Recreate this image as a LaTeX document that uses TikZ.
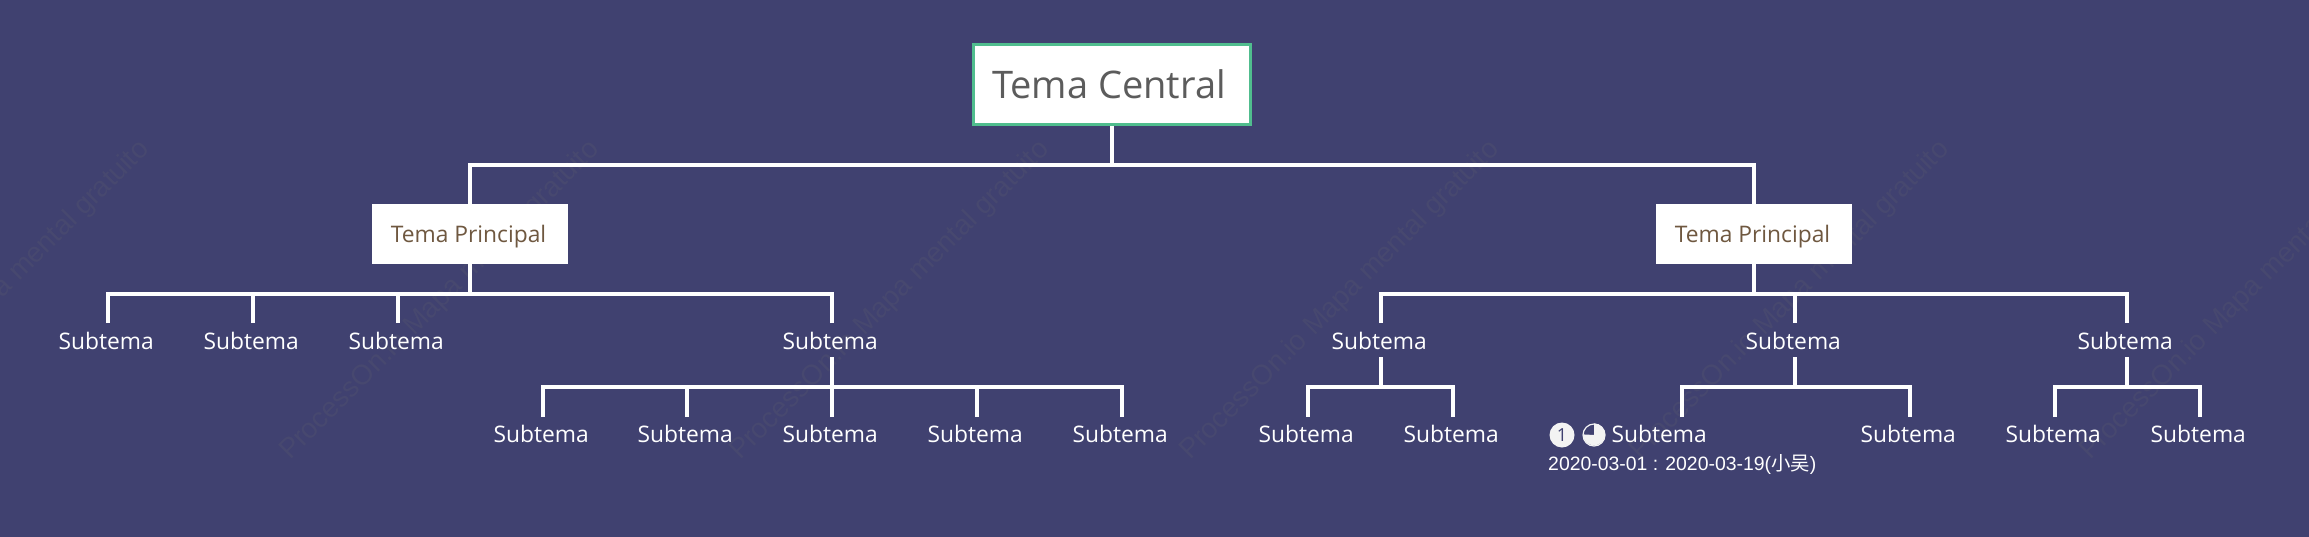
\documentclass[tikz,border=0pt]{standalone}
\usepackage{fontspec}
\setmainfont{Open Sans}
\newfontfamily\arialfont{Liberation Sans}
\newfontfamily\cjkfont{Noto Sans CJK SC}
\definecolor{bgc}{HTML}{404170}
\definecolor{wmc}{HTML}{47486F}
\definecolor{greenc}{HTML}{50BD8E}
\definecolor{greyc}{HTML}{5C5C5C}
\definecolor{brownc}{HTML}{6F5840}
\definecolor{iconc}{HTML}{F3F3F3}
\tikzset{
  x=1pt,y=-1pt,
  conn/.style={draw=white,line width=3.2pt},
  roottopic/.style={draw=greenc,line width=3pt,fill=white,text=greyc,inner sep=0pt,outer sep=1.5pt,
    minimum width=277pt,minimum height=80pt,text height=54pt,text depth=26pt,
    font=\fontsize{38}{40}\selectfont},
  maintopic/.style={fill=white,text=brownc,inner sep=0pt,outer sep=0pt,
    minimum width=196pt,minimum height=60pt,text height=38pt,text depth=22pt,
    font=\fontsize{22.8}{24}\selectfont},
  subtopic/.style={text=white,inner sep=0pt,outer sep=0pt,minimum height=34pt,
    text height=26pt,text depth=8pt,font=\fontsize{22.8}{24}\selectfont},
  lowertopic/.style={subtopic,text height=25pt,text depth=9pt},
  wmark/.style={text=wmc,rotate=45,anchor=base west,inner sep=0pt,
    font=\arialfont\fontsize{28}{30}\selectfont},
}
\newcommand{\subt}{Subtema\kern3.5pt}
\begin{document}
\begin{tikzpicture}
\useasboundingbox (0,0) rectangle (2309,536);
\fill[bgc] (-5,-5) rectangle (2314,541);
% watermarks
\foreach \i/\wx in {0/-160,1/290,2/740,3/1190,4/1640,5/2090}{
  \node[wmark] (wa\i) at (\wx,461) {ProcessOn.io Mapa mental gratuito};
}
% nodes
\node[roottopic] (root) at (1112,84.5) {Tema Central\kern6pt};
\node[maintopic] (mL) at (470,234) {Tema Principal\kern3pt};
\node[maintopic] (mR) at (1754,234) {Tema Principal\kern3pt};
\foreach \n/\sx in {a/108,b/253,c/398,d/832,e/1381,f/1795,g/2127}{
  \node[subtopic] (s\n) at (\sx,340) {\subt};
}
\foreach \n/\sx in {a/543,b/687,c/832,d/977,e/1122,f/1308,g/1453,i/1910,j/2055,k/2200}{
  \node[lowertopic] (t\n) at (\sx,434) {\subt};
}
\node[lowertopic,minimum width=267pt] (th) at (1682,434) {\makebox[267pt][l]{\hspace{63pt}Subtema}};
\node[text=white,inner sep=0pt,anchor=base west,font=\arialfont\fontsize{19.4}{22}\selectfont] (date) at (1548,470) {2020-03-01 : 2020-03-19({\cjkfont 小吴})};
% icons
\node[circle,fill=iconc,minimum size=25pt,inner sep=0pt,text=bgc,font=\fontsize{18}{18}\selectfont] (icon1) at (1562,435) {1};
\node[circle,draw=iconc,line width=1.2pt,minimum size=22pt,inner sep=0pt] (icon2) at (1594,435) {};
\fill[iconc] (icon2.center) -- (icon2.north) arc[start angle=-90,end angle=180,radius=11] -- cycle;
% connectors
\coordinate (barroot) at (1112,165);
\draw[conn] (root.south) -- (barroot);
\draw[conn] (mL.north) |- (barroot);
\draw[conn] (mR.north) |- (barroot);
\coordinate (barL) at (470,294);
\draw[conn] (mL.south) -- (barL);
\foreach \n in {a,b,c,d}{\draw[conn] (s\n.north) |- (barL);}
\coordinate (barR) at (1754,294);
\draw[conn] (mR.south) -- (barR);
\foreach \n in {e,f,g}{\draw[conn] (s\n.north) |- (barR);}
\coordinate (bard) at (832,387);
\draw[conn] (sd.south) -- (bard);
\foreach \n in {a,b,c,d,e}{\draw[conn] (t\n.north) |- (bard);}
\coordinate (bare) at (1381,387);
\draw[conn] (se.south) -- (bare);
\foreach \n in {f,g}{\draw[conn] (t\n.north) |- (bare);}
\coordinate (barf) at (1795,387);
\draw[conn] (sf.south) -- (barf);
\draw[conn] (th.north) |- (barf);
\draw[conn] (ti.north) |- (barf);
\coordinate (barg) at (2127,387);
\draw[conn] (sg.south) -- (barg);
\foreach \n in {j,k}{\draw[conn] (t\n.north) |- (barg);}
\end{tikzpicture}
\end{document}
